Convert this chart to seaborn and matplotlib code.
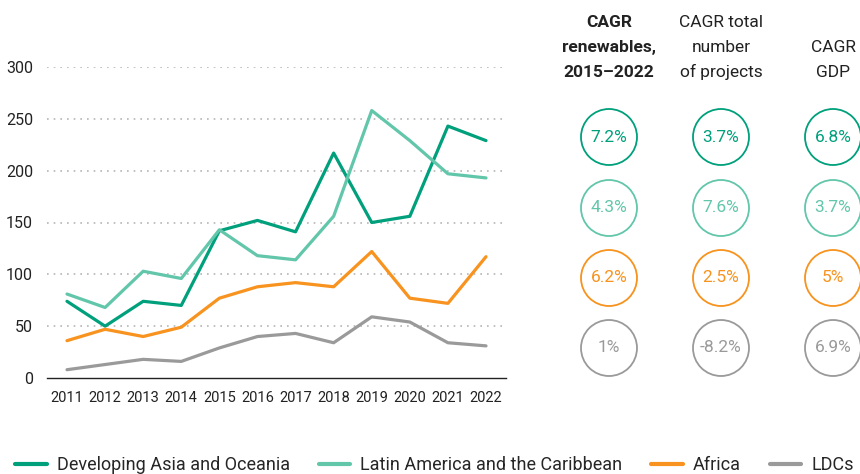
import pandas as pd
import seaborn as sns
import matplotlib.pyplot as plt
from matplotlib.patches import Circle
from matplotlib.lines import Line2D

# data
years = list(range(2011, 2023))
asia = [74, 50, 74, 70, 142, 152, 141, 217, 150, 156, 243, 229]
latam = [81, 68, 103, 96, 143, 118, 114, 156, 258, 229, 197, 193]
africa = [36, 47, 40, 49, 77, 88, 92, 88, 122, 77, 72, 117]
ldcs = [8, 13, 18, 16, 29, 40, 43, 34, 59, 54, 34, 31]

regions = ["Developing Asia and Oceania", "Latin America and the Caribbean", "Africa", "LDCs"]
colors = ["#00a07c", "#62c6aa", "#f7931e", "#9a9a9a"]

cagr_renew = ["7.2%", "4.3%", "6.2%", "1%"]
cagr_projects = ["3.7%", "7.6%", "2.5%", "-8.2%"]
cagr_gdp = ["6.8%", "3.7%", "5%", "6.9%"]
headers = ["CAGR\nrenewables,\n2015\u20132022", "CAGR total\nnumber\nof projects", "CAGR\nGDP"]

sns.set_style("white")
plt.rcParams["font.family"] = ["Roboto", "DejaVu Sans"]

df = pd.DataFrame({
    "year": years * 4,
    "value": asia + latam + africa + ldcs,
    "region": sum([[r] * len(years) for r in regions], []),
})

fig = plt.figure(figsize=(8.6, 4.74), dpi=100)
ax = fig.add_axes([47 / 860, 1 - 378 / 474, 459 / 860, 311 / 474])

sns.lineplot(data=df, x="year", y="value", hue="region", palette=colors,
             hue_order=regions, linewidth=2.3, ax=ax, legend=False)

ax.set_xlim(2010.475, 2022.525)
ax.set_ylim(0, 300)
ax.set_xticks(years)
ax.set_yticks(range(0, 301, 50))
ax.set_xlabel("")
ax.set_ylabel("")
ax.tick_params(axis="both", colors="#222222", length=0)
ax.tick_params(axis="x", labelsize=10.5, pad=9)
ax.tick_params(axis="y", labelsize=11.5, pad=10)
for y in range(50, 301, 50):
    ax.axhline(y, color="#b5b5b5", linestyle=(0, (1, 3)), linewidth=1.2, zorder=0)
for s in ["top", "right", "left"]:
    ax.spines[s].set_visible(False)
ax.spines["bottom"].set_color("#222222")
ax.spines["bottom"].set_linewidth(1.0)

# right-hand panel with CAGR circles, in pixel coordinates
pan = fig.add_axes([0, 0, 1, 1], zorder=-1)
pan.set_xlim(0, 860)
pan.set_ylim(474, 0)
pan.axis("off")

col_x = [609, 721, 833]
row_y = [137, 208, 278, 348]
for j, (cx, head) in enumerate(zip(col_x, headers)):
    weight = "bold" if j == 0 else "normal"
    top = 22 if head.count("\n") == 2 else 47
    for k, line in enumerate(head.split("\n")):
        pan.text(cx, top + k * 25, line, ha="center", va="center", fontsize=12.5,
                 color="#222222", fontweight=weight)
for j, vals in enumerate([cagr_renew, cagr_projects, cagr_gdp]):
    for i, v in enumerate(vals):
        pan.add_patch(Circle((col_x[j], row_y[i]), 28, fill=False,
                             edgecolor=colors[i], linewidth=1.3))
        pan.text(col_x[j], row_y[i], v, ha="center", va="center",
                 fontsize=12.5, color=colors[i])

handles = [Line2D([0], [0], color=c, linewidth=3) for c in colors]
fig.legend(handles, regions, loc="center left", bbox_to_anchor=(15 / 860, 1 - 465 / 474),
           ncol=4, frameon=False, fontsize=13, handlelength=1.75, handletextpad=0.55,
           columnspacing=1.6, borderaxespad=0, borderpad=0)

fig.savefig("out.png", dpi=100)
